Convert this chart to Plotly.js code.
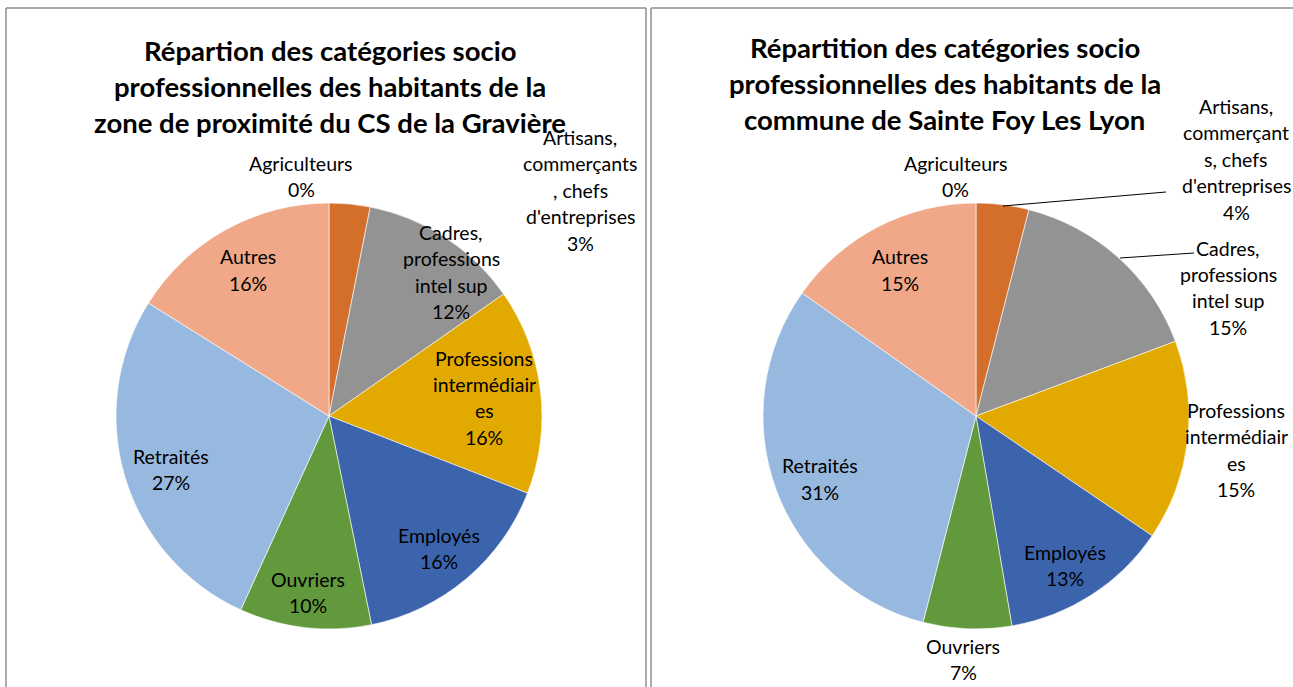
<!DOCTYPE html>
<html>
<head>
<meta charset="utf-8">
<script src="https://cdn.plot.ly/plotly-3.0.1.min.js"></script>
<style>html,body{margin:0;padding:0;background:#fff}#chart{width:1293px;height:687px}</style>
</head>
<body>
<div id="chart"></div>
<script>
// ---- data ----
const categories = ["Agriculteurs", "Artisans, commerçants, chefs d'entreprises", "Cadres, professions intel sup", "Professions intermédiaires", "Employés", "Ouvriers", "Retraités", "Autres"];
const valuesGraviere = [0, 3.1, 12.2, 15.6, 15.9, 10.0, 27.1, 16.1];
const valuesSainteFoy = [0, 4.0, 15.3, 15.2, 12.8, 6.7, 30.8, 15.2];
const wrappedLabelsLeft = [["Agriculteurs"], ["Artisans,", "commerçants", ", chefs", "d'entreprises"], ["Cadres,", "professions", "intel sup"], ["Professions", "intermédiair", "es"], ["Employés"], ["Ouvriers"], ["Retraités"], ["Autres"]];
const wrappedLabelsRight = [["Agriculteurs"], ["Artisans,", "commerçant", "s, chefs", "d'entreprises"], ["Cadres,", "professions", "intel sup"], ["Professions", "intermédiair", "es"], ["Employés"], ["Ouvriers"], ["Retraités"], ["Autres"]];
const titleLeft = ["Répartion des catégories socio", "professionnelles des habitants de la", "zone de proximité du CS de la Gravière"];
const titleRight = ["Répartition des catégories socio", "professionnelles des habitants de la", "commune de Sainte Foy Les Lyon"];
const colors = ["#4472C4", "#D36E2B", "#939393", "#E2AA00", "#3C64AD", "#63993D", "#98B9DF", "#F1A889"];

// ---- layout helpers (pixel -> paper) ----
const W = 1293, H = 687;
const px = x => x / W;
const py = y => 1 - y / H;
const FONT = "Lato, 'Open Sans', sans-serif";

// label anchor positions (first line centre, pixels)
const labelPosLeft = [[301,163],[580,137],[451,232],[484,358],[439,535],[308,579],[171,456],[248,257]];
const labelPosRight = [[956,163],[1236,106],[1228,248],[1236,410],[1065,552],[963,646],[820,466],[900,257]];
const LINE = 26.5;

function pct(vals, i) {
  const s = vals.reduce((a, b) => a + b, 0);
  return Math.round(vals[i] / s * 100) + "%";
}

const annotations = [];
function addLabels(vals, wrapped, pos) {
  wrapped.forEach((lines, i) => {
    const all = lines.concat([pct(vals, i)]);
    all.forEach((t, k) => {
      annotations.push({
        xref: "paper", yref: "paper", x: px(pos[i][0]), y: py(pos[i][1] + k * LINE),
        xanchor: "center", yanchor: "middle", showarrow: false, text: t,
        font: {family: FONT, size: 19.5, color: "#000"}
      });
    });
  });
}
addLabels(valuesGraviere, wrappedLabelsLeft, labelPosLeft);
addLabels(valuesSainteFoy, wrappedLabelsRight, labelPosRight);

function addTitle(lines, cx, y0) {
  lines.forEach((t, k) => {
    annotations.push({
      xref: "paper", yref: "paper", x: px(cx), y: py(y0 + k * 36),
      xanchor: "center", yanchor: "middle", showarrow: false, text: "<b>" + t + "</b>",
      font: {family: FONT, size: 27.5, color: "#000"}
    });
  });
}
addTitle(titleLeft, 330, 50);
addTitle(titleRight, 945, 47);

const border = "#8f8f8f";
const shapes = [
  // left panel
  {type: "line", xref: "paper", yref: "paper", x0: px(6), x1: px(6), y0: py(8), y1: py(700), line: {color: border, width: 1.5}},
  {type: "line", xref: "paper", yref: "paper", x0: px(6), x1: px(646), y0: py(8), y1: py(8), line: {color: border, width: 1.5}},
  {type: "line", xref: "paper", yref: "paper", x0: px(646), x1: px(646), y0: py(8), y1: py(700), line: {color: border, width: 1.5}},
  // right panel
  {type: "line", xref: "paper", yref: "paper", x0: px(651), x1: px(651), y0: py(8), y1: py(700), line: {color: border, width: 1.5}},
  {type: "line", xref: "paper", yref: "paper", x0: px(651), x1: px(1300), y0: py(8), y1: py(8), line: {color: border, width: 1.5}},
  // leader lines (right chart)
  {type: "line", xref: "paper", yref: "paper", x0: px(1003), x1: px(1166), y0: py(206), y1: py(192), line: {color: "#000", width: 1}},
  {type: "line", xref: "paper", yref: "paper", x0: px(1120), x1: px(1194), y0: py(258), y1: py(253), line: {color: "#000", width: 1}}
];

function pieTrace(vals, domain) {
  return {
    type: "pie", labels: categories, values: vals, sort: false, direction: "clockwise", rotation: 0,
    marker: {colors: colors, line: {color: "#ffffff", width: 0.6}},
    textinfo: "none", hoverinfo: "label+percent", showlegend: false, domain: domain
  };
}

const data = [
  pieTrace(valuesGraviere, {x: [px(116), px(542)], y: [py(629), py(203)]}),
  pieTrace(valuesSainteFoy, {x: [px(763), px(1189)], y: [py(629), py(203)]})
];

const layout = {
  width: W, height: H, margin: {l: 0, r: 0, t: 0, b: 0},
  paper_bgcolor: "#fff", plot_bgcolor: "#fff",
  showlegend: false, annotations: annotations, shapes: shapes,
  font: {family: FONT}
};
Plotly.newPlot("chart", data, layout, {displayModeBar: false, staticPlot: true});
</script>
</body>
</html>
